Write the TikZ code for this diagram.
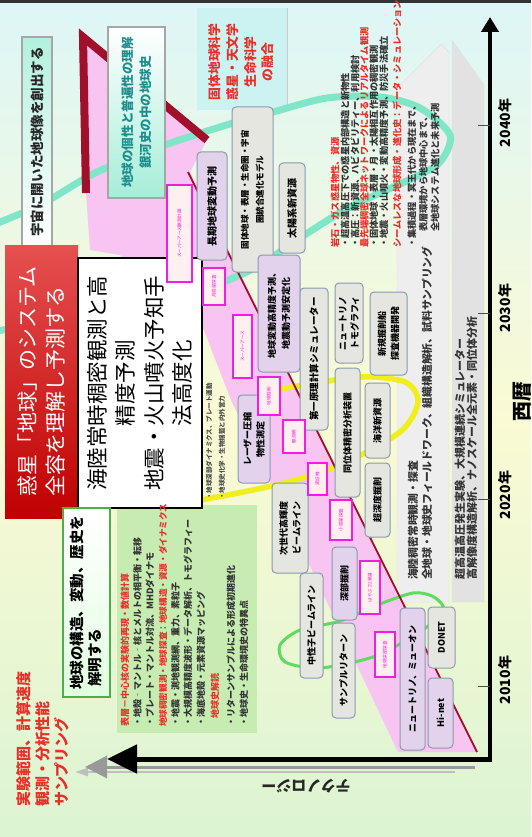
\documentclass[tikz,border=0pt]{standalone}
\usepackage{fontspec}
\setmainfont{Noto Sans CJK JP}
\usetikzlibrary{arrows.meta}
\definecolor{bgtop}{HTML}{DDF6F7}
\definecolor{bgmid}{HTML}{FAFAD4}
\definecolor{bgbot}{HTML}{DCF4D2}
\definecolor{pinkw}{HTML}{F8C4F1}
\definecolor{dred}{HTML}{A0102A}
\definecolor{grnbox}{HTML}{C6ECB2}
\definecolor{aqua}{HTML}{7FE6C8}
\definecolor{ylw}{HTML}{F0EE1C}
\definecolor{lgrn}{HTML}{5EDC5E}
\definecolor{txtred}{HTML}{E8302A}
\definecolor{mag}{HTML}{F01EE0}
\definecolor{bxb}{HTML}{8A9AAE}
\definecolor{bxgray}{HTML}{E6E6E0}
\definecolor{bxlav}{HTML}{E2D2EC}
\definecolor{cyanbox}{HTML}{CDF2F2}
\definecolor{colA}{HTML}{EEEEEE}
\definecolor{colB}{HTML}{E2E2E2}
\definecolor{teal2}{HTML}{1E8C8C}
\newcommand{\fsz}[2]{\fontsize{#1}{#2}\selectfont}
\begin{document}
\begin{tikzpicture}[x=1pt,y=-1pt,
  rbox/.style={draw=bxb, line width=1pt, rounded corners=4pt, fill=bxgray, rotate=90,
     font=\bfseries\fsz{9}{11}, align=center, inner sep=1pt},
  lbox/.style={rbox, fill=bxlav},
  mbox/.style={draw=mag, line width=1.6pt, fill=pink!25, rotate=90, text=mag,
     font=\fsz{4.5}{5}, align=center, inner sep=1pt},
  rtl/.style={rotate=90, anchor=west, inner sep=0pt},
  blk/.style={rtl, text=black!80, font=\bfseries\fsz{9.2}{10}},
  red9/.style={rtl, text=txtred, font=\bfseries\fsz{9.2}{10}},
  grn/.style={rtl, text=black!80, font=\bfseries\fsz{9}{10}},
  col/.style={rtl, text=black!80, font=\bfseries\fsz{10.8}{12}},
  yr/.style={rotate=90, font=\bfseries\fsz{14}{14}}
]
\useasboundingbox (0,0) rectangle (531,837);
\shade[top color=bgtop, bottom color=bgbot, middle color=bgmid] (0,0) rectangle (531,837);
\draw[line width=2.5pt, black!80] (0,1.5) -- (531,1.5);

% top-right fusion panel
\fill[cyanbox] (197,8) rectangle (287,110);
\draw[gray!40, line width=1pt] (287,8) -- (287,110);

% grey columns (big upward arrows)
\filldraw[fill=colA, draw=gray!25] (397,602) -- (397,88) -- (441,44) -- (449,52) -- (449,602) -- cycle;
\filldraw[fill=colB, draw=gray!25] (452,602) -- (452,40) -- (484,85) -- (484,602) -- cycle;

% pink wedge
\fill[pinkw] (83,37) -- (207,140) -- (190,172) -- (477,752) -- (398,752) -- (288,520)
  -- (231,400) -- (200,320) -- (120,255) -- (90,250) -- (86,193) -- cycle;

% green area
\fill[grnbox] (117,505) rectangle (257,733);

% loops
\draw[aqua, line width=7pt, line cap=round] plot[smooth] coordinates {(-15,228) (40,205) (97,172) (165,145) (233,123) (273,112) (327,98) (380,97) (420,108) (450,135) (440,162) (413,178) (350,207) (300,238) (260,265) (220,283) (150,303) (60,320) (-15,333)};
\draw[ylw, line width=5.5pt] plot[smooth] coordinates {(150,505) (200,500) (280,484) (340,465) (400,432) (418,402) (405,382) (360,377) (292,387) (264,393) (250,410) (250,440)};
\draw[lgrn, line width=3pt] plot[smooth cycle] coordinates {(443,606) (432,596) (413,593) (380,604) (340,621) (300,630) (280,645) (285,662) (320,668) (373,657) (410,638) (440,617)};

% chevron and red line
\draw[dred, line width=8pt, line join=miter] (86,193) -- (83,37) -- (207,140);
\draw[dred, line width=1.8pt] (188,172) -- (477,752);

% axes
\draw[black!25, line width=2.5pt, -{Triangle[length=13pt,width=8pt]}] (455,772) -- (75,772);
\draw[gray!80, line width=3pt, -{Triangle[length=22pt,width=22pt]}] (475,767) -- (85,767);
\draw[black, line width=5pt, -{Triangle[length=30pt,width=28pt]}] (492,759) -- (107,759);
\draw[black, line width=4pt, -{Triangle[length=15pt,width=17pt]}] (490,761) -- (490,17);
\foreach \yy in {686,499,313,126} \draw[black!70, line width=1pt] (478,\yy) -- (490,\yy);
\node[yr] (y2010) at (505,680) {2010年};
\node[yr] (y2020) at (505,495) {2020年};
\node[yr] (y2030) at (505,308) {2030年};
\node[yr] (y2040) at (505,123) {2040年};
\node[rotate=90, font=\bfseries\fsz{20}{20}] (seireki) at (522,401) {西暦};
\node[rotate=180, font=\bfseries\fsz{15}{15}, text=black!85] (techno) at (306,786) {テクノロジー};

% left red labels
\node[rotate=90, anchor=north west, inner sep=0pt, align=left, text=txtred,
  font=\bfseries\fsz{15}{19}] (perf) at (16,807) {実験範囲、計算速度\\観測・分析性能\\サンプリング};

% top boxes
\node[rotate=90, draw=gray!70, line width=1.5pt, top color=aqua!60, bottom color=white,
  minimum width=210pt, minimum height=30pt, font=\bfseries\fsz{13.5}{14}, text=black!85] (t1) at (37,142) {宇宙に開いた地球像を創出する};
\node[rotate=90, draw=gray!70, line width=1.5pt, top color=white, bottom color=aqua!70,
  minimum width=171pt, minimum height=57pt, align=center, font=\bfseries\fsz{12.5}{18}, text=teal2] (t2) at (136.5,112.5) {地球の個性と普遍性の理解\\銀河史の中の地球史};
\node[rotate=90, red!50!black, top color=red!65!white!90!black, bottom color=red!75!black,
  minimum width=273pt, minimum height=73pt, align=left, font=\fsz{21}{28}, text=white] (sys) at (41.5,381.5) {惑星「地球」のシステム\\全容を理解し予測する};
\node[rotate=90, draw=black, line width=2pt, fill=white, minimum width=250pt, minimum height=124pt,
  align=center, font=\fsz{21.5}{27.5}] (wbox) at (140,383) {海陸常時稠密観測と高\\精度予測\\[2pt]地震・火山噴火予知手\\法高度化};
\node[rotate=90, draw=lgrn!80!black, line width=2.5pt, top color=white, bottom color=green!12,
  minimum width=189pt, minimum height=47pt, align=left, font=\bfseries\fsz{14.5}{18}] (gbox) at (86.5,602.5) {地球の構造、変動、歴史を\\\hspace{3pt}解明する};

% fusion text
\node[rotate=90, text=txtred, font=\bfseries\fsz{12.8}{17.7}, align=center] (fuse) at (241.5,62) {固体地球科学\\惑星・天文学\\生命科学\\の融合};

% right text block
\node[red9] (r1) at (335,248) {岩石・ガス惑星物性、資源};
\node[blk] (r2) at (345,248) {・超高温高圧下での惑星内部構造と新物性};
\node[blk] (r3) at (355,248) {・高圧：新資源、ハビタビリティー、利用検討};
\node[red9] (r4) at (364.5,248) {最先端稠密全球ネットワークによるリアルタイム観測};
\node[blk] (r5) at (374,248) {・固体地球・表層・月・太陽相互作用の稠密観測};
\node[blk] (r6) at (384,248) {・地震・火山噴火・変動高精度予測、防災手法確立};
\node[red9, font=\bfseries\itshape\fsz{9.2}{10}] (r7) at (397,248) {シームレスな地球形成・進化史：データ・シミュレーション};
\node[blk] (r8) at (412,248) {・集積過程・冥王代から現在まで、};
\node[blk] (r9) at (423.5,232) {表層環境から地球中心まで、};
\node[blk] (r10) at (435,232) {全地球システム進化と未来予測};

% grey column text
\node[col] (ca1) at (413,580) {海陸稠密常時観測・探査};
\node[col] (ca2) at (427,580) {全地球・地球史フィールドワーク、組織構造解析、試料サンプリング};
\node[col, font=\bfseries\fsz{11}{12}] (cb1) at (460,580) {超高温高圧発生実験、大規模連続シミュレーター};
\node[col, font=\bfseries\fsz{11}{12}] (cb2) at (472,580) {高解像度構造解析、ナノスケール全元素・同位体分析};

% green area text
\node[grn, text=txtred] (g1) at (125,727) {表層－中心核の実験的再現・数値計算};
\node[grn] (g2) at (137.5,727) {・地殻‐マントル‐核とメルトの相平衡・転移};
\node[grn] (g3) at (150,727) {・プレート・マントル対流、MHDダイナモ};
\node[grn, text=txtred, font=\bfseries\fsz{8.6}{10}] (g4) at (163,727) {地球稠密観測・地球探査：地球構造・資源・ダイナミクス};
\node[grn] (g5) at (175.5,727) {・地震・測地観測網、重力、素粒子};
\node[grn] (g6) at (188,727) {・大規模高精度波形・データ解析、トモグラフィー};
\node[grn] (g7) at (201,727) {・海底地殻・元素資源マッピング};
\node[grn, text=txtred] (g8) at (215,719) {地球史解読};
\node[grn] (g9) at (231,727) {・リターンサンプルによる形成初期進化};
\node[grn] (g10) at (244,727) {・地球史・生命環境史の特異点};

% diagonal small text
\node[rtl, text=black!70, font=\bfseries\fsz{6.5}{7}] (d1) at (209,500) {・地球深部ダイナミクス、プレート運動};
\node[rtl, text=black!70, font=\bfseries\fsz{6.5}{7}] (d2) at (222,500) {・地球史化学・生物揺籃と内外営力};

% boxes
\node[rbox, font=\bfseries\fsz{8.5}{15}, minimum width=165pt, minimum height=41pt] (b1) at (252.5,189.5) {固体地球・表層・生命圏・宇宙\\圏統合進化モデル};
\node[rbox, font=\bfseries\fsz{10}{11}, minimum width=90pt, minimum height=26pt] (b2) at (292,208) {太陽系新資源};
\node[lbox, font=\bfseries\fsz{10}{11}, minimum width=108pt, minimum height=30pt] (b3) at (212,206) {長期地球変動予測};
\node[lbox, font=\bfseries\fsz{9}{14}, minimum width=117pt, minimum height=42pt] (b4) at (279,313.5) {地球変動高精度予測、\\地震動予測安定化};
\node[rbox, font=\bfseries\fsz{9.5}{11}, minimum width=142pt, minimum height=28pt] (b5) at (314,359) {第一原理計算シミュレーター};
\node[rbox, font=\bfseries\fsz{9}{12}, minimum width=80pt, minimum height=28pt] (b6) at (349,323) {ニュートリノ\\トモグラフィ};
\node[rbox, font=\bfseries\fsz{9}{13}, minimum width=83pt, minimum height=37pt] (b7) at (388.5,333.5) {新規掘削船\\探査機器開発};
\node[rbox, font=\bfseries\fsz{9}{11}, minimum width=129pt, minimum height=25pt] (b8) at (347.5,432.5) {同位体精密分析装置};
\node[rbox, font=\bfseries\fsz{9}{11}, minimum width=75pt, minimum height=25pt] (b9) at (377.5,420.5) {海洋新資源};
\node[rbox, font=\bfseries\fsz{9}{11}, minimum width=74pt, minimum height=25pt] (b10) at (377.5,500) {超深度掘削};
\node[lbox, font=\bfseries\fsz{9}{13}, minimum width=88pt, minimum height=32pt] (b11) at (254,439) {レーザー圧縮\\物性測定};
\node[rbox, font=\bfseries\fsz{9}{13}, minimum width=90pt, minimum height=36pt] (b12) at (290,528) {次世代高輝度\\ビームライン};
\node[rbox, font=\bfseries\fsz{9}{11}, minimum width=105pt, minimum height=23pt] (b13) at (311.5,625.5) {中性子ビームライン};
\node[lbox, font=\bfseries\fsz{9}{11}, minimum width=73pt, minimum height=25pt] (b14) at (344.5,583.5) {深部掘削};
\node[rbox, font=\bfseries\fsz{9}{11}, minimum width=95pt, minimum height=23pt] (b15) at (343.5,670.5) {サンプルリターン};
\node[lbox, font=\bfseries\fsz{9}{11}, minimum width=142pt, minimum height=25pt] (b16) at (412.5,679) {ニュートリノ、ミューオン};
\node[rbox, font=\bfseries\fsz{9}{11}, minimum width=61pt, minimum height=27pt] (b17) at (441.5,637.5) {DONET};
\node[lbox, font=\bfseries\fsz{9}{11}, minimum width=70pt, minimum height=25pt] (b18) at (440.5,713) {Hi-net};

% magenta boxes
\node[mbox, minimum width=97pt, minimum height=25pt] (m1) at (179.5,233.5) {スーパーアース観測計画};
\node[mbox, minimum width=37pt, minimum height=22pt] (m2) at (214,286.5) {月惑星探査};
\node[mbox, minimum width=63pt, minimum height=19pt] (m3) at (242.5,346.5) {スーパーアース};
\node[mbox, minimum width=38pt, minimum height=22pt] (m4) at (269,396) {地球掘削};
\node[mbox, minimum width=33pt, minimum height=22pt] (m5) at (294,436.5) {観測網};
\node[mbox, minimum width=32pt, minimum height=19pt] (m6) at (317.5,479) {実証機};
\node[mbox, minimum width=40pt, minimum height=22pt] (m7) at (341,520) {小惑星探査};
\node[mbox, minimum width=53pt, minimum height=20pt] (m8) at (370,587.5) {はやぶさ2帰還};
\node[mbox, minimum width=45pt, minimum height=20pt] (m9) at (385,654.5) {地球深部探査};
\end{tikzpicture}
\end{document}
